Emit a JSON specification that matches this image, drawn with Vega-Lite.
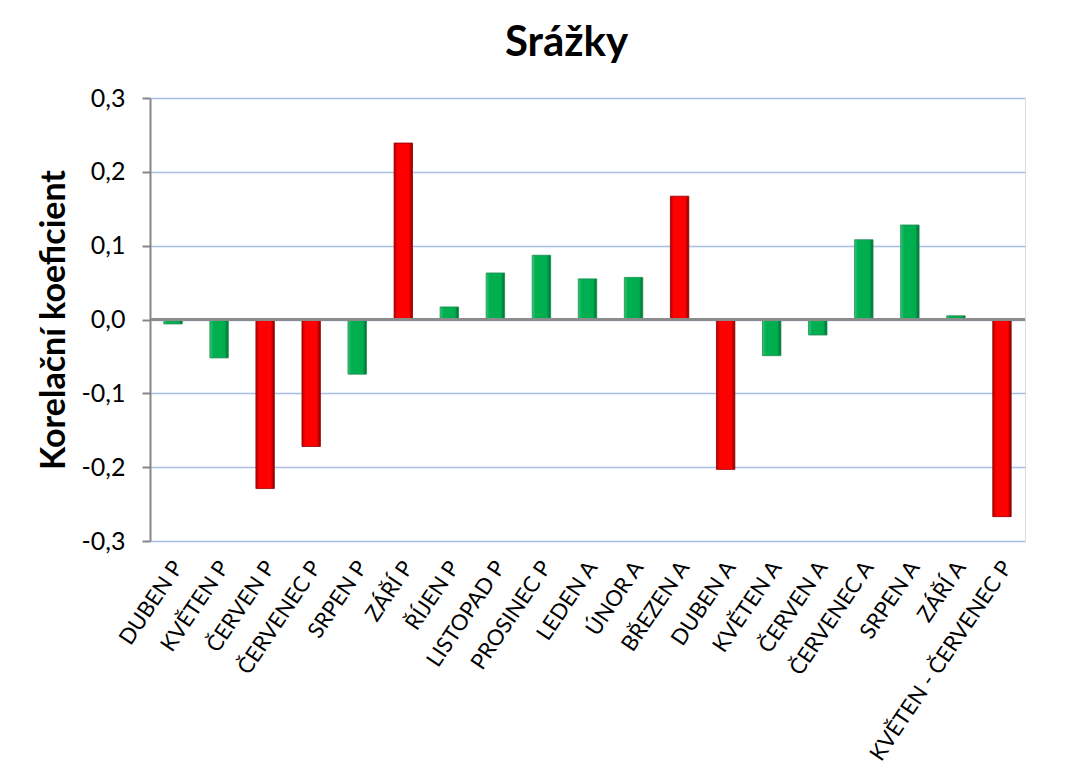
{
  "$schema": "https://vega.github.io/schema/vega-lite/v6.json",
  "autosize": {"type": "none"},
  "width": 875,
  "height": 443,
  "padding": {"left": 150, "top": 98, "right": 58, "bottom": 237},
  "background": "white",
  "title": {"text": "Srážky", "font": "Lato", "fontSize": 42, "fontWeight": "bold", "color": "black", "anchor": "middle", "dx": -21, "offset": 21},
  "data": {"values": [
    {"mesic": "DUBEN P", "r": -0.006, "sig": false},
    {"mesic": "KVĚTEN P", "r": -0.052, "sig": false},
    {"mesic": "ČERVEN P", "r": -0.229, "sig": true},
    {"mesic": "ČERVENEC P", "r": -0.172, "sig": true},
    {"mesic": "SRPEN P", "r": -0.074, "sig": false},
    {"mesic": "ZÁŘÍ P", "r": 0.239, "sig": true},
    {"mesic": "ŘÍJEN P", "r": 0.017, "sig": false},
    {"mesic": "LISTOPAD P", "r": 0.063, "sig": false},
    {"mesic": "PROSINEC P", "r": 0.087, "sig": false},
    {"mesic": "LEDEN A", "r": 0.055, "sig": false},
    {"mesic": "ÚNOR A", "r": 0.057, "sig": false},
    {"mesic": "BŘEZEN A", "r": 0.167, "sig": true},
    {"mesic": "DUBEN A", "r": -0.203, "sig": true},
    {"mesic": "KVĚTEN A", "r": -0.049, "sig": false},
    {"mesic": "ČERVEN A", "r": -0.021, "sig": false},
    {"mesic": "ČERVENEC A", "r": 0.108, "sig": false},
    {"mesic": "SRPEN A", "r": 0.128, "sig": false},
    {"mesic": "ZÁŘÍ A", "r": 0.005, "sig": false},
    {"mesic": "KVĚTEN - ČERVENEC P", "r": -0.267, "sig": true}
  ]},
  "encoding": {
    "x": {"field": "mesic", "type": "nominal", "sort": null,
      "scale": {"paddingInner": 0.6, "paddingOuter": 0.3},
      "axis": {"title": null, "domain": false, "ticks": false, "labelAngle": -56, "labelAlign": "right", "labelBaseline": "middle", "labelPadding": 22, "labelOffset": 5, "labelFont": "Lato", "labelFontSize": 22, "labelColor": "black", "labelLimit": 400}},
    "y": {"field": "r", "type": "quantitative",
      "scale": {"domain": [-0.3, 0.3], "nice": false, "zero": false},
      "axis": {"title": "Korelační koeficient", "titleFont": "Lato", "titleFontSize": 34, "titleFontWeight": "bold", "titleColor": "black", "titlePadding": 10,
        "values": [-0.3, -0.2, -0.1, 0, 0.1, 0.2, 0.3],
        "labelExpr": "replace(replace(format(datum.value, '.1f'), '.', ','), '−', '-')",
        "labelFont": "Lato", "labelFontSize": 25, "labelColor": "black", "labelPadding": 17,
        "domainColor": "#868686", "domainWidth": 2, "tickColor": "#868686", "tickWidth": 2, "tickSize": 8,
        "gridColor": "#a9bfe6", "gridWidth": 1.5}}
  },
  "layer": [
    {
      "mark": {"type": "bar"},
      "encoding": {
        "fill": {
          "condition": {"test": "datum.sig",
            "value": {"gradient": "linear", "x1": 0, "y1": 0, "x2": 1, "y2": 0, "stops": [
              {"offset": 0, "color": "#b30000"}, {"offset": 0.18, "color": "#ff0000"}, {"offset": 0.8, "color": "#ff0000"}, {"offset": 1, "color": "#8a0000"}]}},
          "value": {"gradient": "linear", "x1": 0, "y1": 0, "x2": 1, "y2": 0, "stops": [
            {"offset": 0, "color": "#35c878"}, {"offset": 0.18, "color": "#00b050"}, {"offset": 0.8, "color": "#00ad4e"}, {"offset": 1, "color": "#006a30"}]}
        },
        "stroke": {"condition": {"test": "datum.sig", "value": "#900000"}, "value": "#1e8c50"},
        "strokeWidth": {"value": 0.8}
      }
    },
    {
      "mark": {"type": "rule", "color": "#8c8c8c", "strokeWidth": 2},
      "encoding": {"y": {"datum": 0}, "x": null}
    }
  ]
}
